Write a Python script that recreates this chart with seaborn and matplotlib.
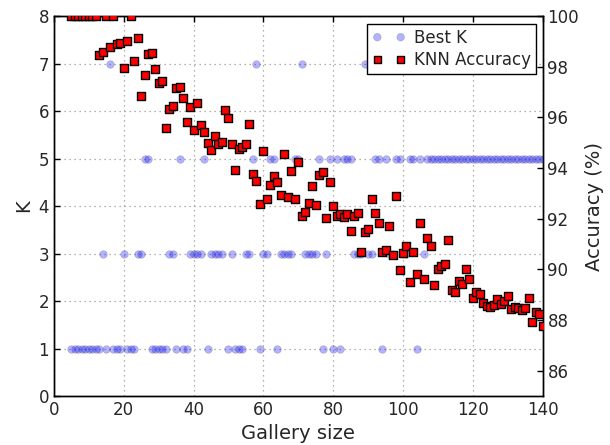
import matplotlib
matplotlib.use("Agg")
import matplotlib.pyplot as plt
import seaborn as sns
import pandas as pd

# ---- data ----
best_k_size = [5, 6, 7, 8, 9, 10, 11, 12, 13, 14, 15, 16, 17, 18, 19, 20, 21, 22, 23, 24,
               25, 26, 27, 28, 29, 30, 31, 32, 33, 34, 35, 36, 37, 38, 39, 40, 41, 42, 43, 44,
               45, 46, 47, 48, 50, 51, 52, 53, 54, 55, 56, 57, 58, 59, 60, 61, 62, 63, 64, 65,
               66, 67, 68, 69, 70, 71, 72, 73, 74, 75, 76, 77, 78, 79, 80, 81, 82, 83, 84, 85,
               86, 87, 88, 89, 90, 91, 92, 93, 94, 95, 96, 97, 98, 99, 100, 101, 102, 103, 104, 105,
               106, 107, 108, 109, 110, 111, 112, 113, 114, 115, 116, 117, 118, 119, 120, 121, 122, 123, 124, 125,
               126, 127, 128, 129, 130, 131, 132, 133, 134, 135, 136, 137, 138, 139, 140]
best_k = [1, 1, 1, 1, 1, 1, 1, 1, 1, 3, 1, 7, 1, 1, 1, 3, 1, 1, 1, 3,
          3, 5, 5, 1, 1, 1, 1, 1, 3, 3, 1, 5, 1, 1, 3, 3, 3, 3, 5, 1,
          3, 3, 3, 3, 1, 3, 1, 1, 1, 3, 3, 5, 7, 1, 3, 3, 5, 5, 1, 3,
          3, 3, 3, 5, 5, 7, 3, 3, 3, 3, 5, 1, 3, 5, 1, 5, 1, 5, 5, 5,
          3, 3, 3, 7, 3, 3, 5, 5, 1, 5, 3, 3, 5, 5, 3, 3, 5, 5, 1, 5,
          3, 5, 5, 5, 5, 5, 5, 5, 5, 5, 5, 5, 5, 5, 5, 5, 5, 5, 5, 5,
          5, 5, 5, 5, 5, 5, 5, 5, 5, 5, 5, 5, 5, 5, 5]

acc_size = [5, 6, 7, 8, 9, 10, 11, 12, 13, 14, 15, 16, 17, 18, 19, 20, 21, 22, 23, 24,
            25, 26, 27, 28, 29, 30, 31, 32, 33, 34, 35, 36, 37, 38, 39, 40, 41, 42, 43, 44,
            45, 46, 47, 48, 49, 50, 51, 52, 53, 54, 55, 56, 57, 58, 59, 60, 61, 62, 63, 64,
            65, 66, 67, 68, 69, 70, 71, 72, 73, 74, 75, 76, 77, 78, 79, 80, 81, 82, 83, 84,
            85, 86, 87, 88, 89, 90, 91, 92, 93, 94, 95, 96, 97, 98, 99, 100, 101, 102, 103, 104,
            105, 106, 107, 108, 109, 110, 111, 112, 113, 114, 115, 116, 117, 118, 119, 120, 121, 122, 123, 124,
            125, 126, 127, 128, 129, 130, 131, 132, 133, 134, 135, 136, 137, 138, 139, 140]
knn_acc = [100, 100, 100, 100, 100, 100, 100, 100, 98.46, 98.57, 100, 98.78, 100, 98.88, 98.93, 97.96, 99.03, 100, 98.24, 99.14,
           96.83, 97.66, 98.51, 98.55, 97.89, 97.37, 97.45, 95.58, 96.34, 96.45, 97.16, 97.21, 96.75, 95.80, 96.42, 95.50, 96.55, 95.68, 95.41, 95.00,
           94.72, 95.25, 94.93, 95.01, 96.30, 95.97, 94.93, 93.91, 94.75, 94.84, 94.95, 95.72, 93.75, 93.50, 92.59, 94.67, 92.79, 93.32, 93.67, 93.43,
           92.95, 94.56, 92.87, 93.88, 92.78, 94.25, 92.09, 92.26, 92.62, 93.28, 92.53, 93.72, 93.83, 92.04, 93.43, 92.50, 92.12, 92.20, 92.08, 92.18,
           91.52, 92.10, 92.22, 90.70, 91.46, 91.59, 92.79, 92.22, 91.84, 90.70, 90.78, 91.70, 90.58, 92.89, 89.96, 90.64, 90.92, 89.49, 90.70, 89.81,
           91.84, 89.62, 91.25, 90.93, 89.38, 90.03, 90.13, 90.22, 91.14, 89.18, 89.09, 89.53, 89.42, 90.03, 89.62, 88.87, 89.10, 89.04, 88.66, 88.56,
           88.52, 88.58, 88.84, 88.63, 88.74, 88.96, 88.42, 88.51, 88.46, 88.39, 88.46, 88.88, 87.92, 88.30, 88.22, 87.75]

x_ticks = [0, 20, 40, 60, 80, 100, 120, 140]
k_ticks = [0, 1, 2, 3, 4, 5, 6, 7, 8]
acc_ticks = [86, 88, 90, 92, 94, 96, 98, 100]

df_k = pd.DataFrame({"Gallery size": best_k_size, "K": best_k})
df_acc = pd.DataFrame({"Gallery size": acc_size, "Accuracy": knn_acc})

sns.set_style("white")
plt.rcParams["font.family"] = ["DejaVu Sans"]

fig = plt.figure(figsize=(6.1, 4.45), dpi=100)
ax = fig.add_axes([0.0885, 0.110, 0.801, 0.854])

sns.scatterplot(data=df_k, x="Gallery size", y="K", ax=ax, color="blue", alpha=0.3,
                s=30, edgecolor="#555555", linewidth=0.5, marker="o", label="Best K", zorder=3)
ax.set_xlim(0, 140)
ax.set_ylim(0, 8)
ax.set_xticks(x_ticks)
ax.set_yticks(k_ticks)
ax.grid(True, linestyle=(0, (1, 3)), color="#999999", linewidth=0.9)
ax.set_axisbelow(True)
ax.set_xlabel("Gallery size", fontsize=14)
ax.set_ylabel("K", fontsize=14)
ax.tick_params(axis="both", labelsize=12, direction="in", length=4, width=1,
               top=True, right=False, color="black")
for sp in ax.spines.values():
    sp.set_color("black")
    sp.set_linewidth(1.0)

ax2 = ax.twinx()
sns.scatterplot(data=df_acc, x="Gallery size", y="Accuracy", ax=ax2, color="red",
                s=28, edgecolor="black", linewidth=1.0, marker="s", label="KNN Accuracy", zorder=4)
ax2.set_ylim(85, 100)
ax2.set_yticks(acc_ticks)
ax2.set_ylabel("Accuracy (%)", fontsize=14)
ax2.tick_params(axis="y", labelsize=12, direction="in", length=4, width=1, color="black")
ax2.grid(False)
for sp in ax2.spines.values():
    sp.set_color("black")
    sp.set_linewidth(1.0)

h1, l1 = ax.get_legend_handles_labels()
h2, l2 = ax2.get_legend_handles_labels()
if ax.get_legend() is not None:
    ax.get_legend().remove()
if ax2.get_legend() is not None:
    ax2.get_legend().remove()
leg = ax2.legend(h1 + h2, l1 + l2, loc="upper right", bbox_to_anchor=(0.9865, 0.979),
                 borderaxespad=0.0, scatterpoints=2, scatteryoffsets=[0.5], fontsize=12,
                 frameon=True, fancybox=False,
                 borderpad=0.3, handletextpad=0.5, labelspacing=0.25, handlelength=2.0)
leg.get_frame().set_edgecolor("black")
leg.get_frame().set_linewidth(1.0)
leg.get_frame().set_alpha(1.0)

fig.savefig("out.png", dpi=100)
